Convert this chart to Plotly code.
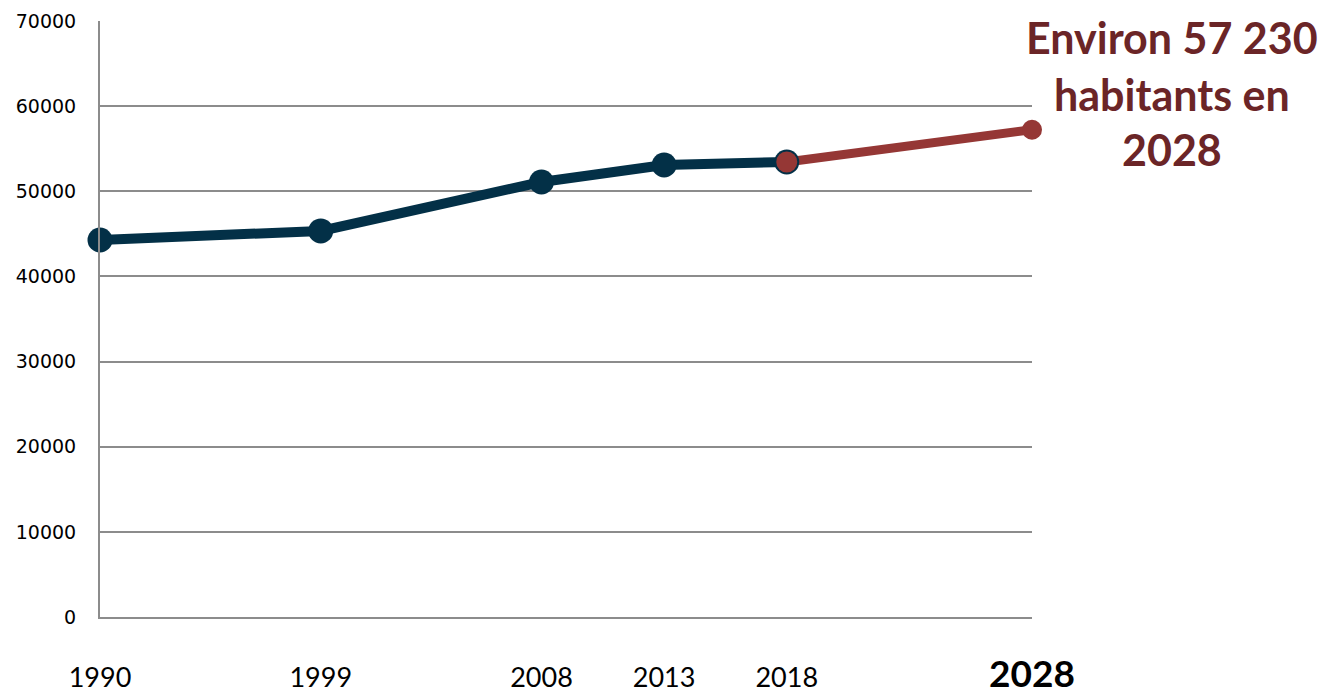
import plotly.graph_objects as go

# Data
years_hist = [1990, 1999, 2008, 2013, 2018]
pop_hist = [44280, 45340, 51090, 53090, 53440]
years_proj = [2018, 2028]
pop_proj = [53440, 57230]
tick_years = [1990, 1999, 2008, 2013, 2018, 2028]
tick_labels = ["1990", "1999", "2008", "2013", "2018",
               "<b><span style='font-size:37px'>2028</span></b>"]
y_ticks = [0, 10000, 20000, 30000, 40000, 50000, 60000, 70000]
note_lines = ["Environ 57 230", "habitants en", "2028"]

NAVY = "#033047"
RED = "#953735"
TXT_RED = "#6B2527"

fig = go.Figure()
fig.add_trace(go.Scatter(
    x=years_proj, y=pop_proj, mode="lines+markers",
    line=dict(color=RED, width=9),
    marker=dict(color=RED, size=20),
    cliponaxis=False, hoverinfo="skip"))
fig.add_trace(go.Scatter(
    x=years_hist, y=pop_hist, mode="lines+markers",
    line=dict(color=NAVY, width=10),
    marker=dict(color=NAVY, size=25),
    cliponaxis=False, hoverinfo="skip"))
# redraw the 2018 point in red on top
fig.add_trace(go.Scatter(
    x=years_proj[:1], y=pop_proj[:1], mode="markers",
    marker=dict(color=RED, size=21, line=dict(width=0)),
    cliponaxis=False, hoverinfo="skip"))

line_y = [0.973, 0.876, 0.784]
for txt, yy in zip(note_lines, line_y):
    fig.add_annotation(
        text=txt, xref="paper", yref="paper", x=1.150, y=yy,
        xanchor="center", yanchor="middle", showarrow=False,
        font=dict(family="Lato", size=43, color=TXT_RED, weight="bold"))

fig.update_layout(
    width=1327, height=698,
    margin=dict(l=100, r=295, t=21, b=81),
    paper_bgcolor="white", plot_bgcolor="white",
    showlegend=False,
    xaxis=dict(range=[1990, 2028], tickmode="array", tickvals=tick_years,
               ticktext=tick_labels, showgrid=False, zeroline=False,
               showline=True, linecolor="#8c8c8c", linewidth=2,
               ticks="", ticklabelstandoff=36, automargin=False,
               tickfont=dict(family="Lato", size=27, color="black")),
    yaxis=dict(range=[0, 70000], tickmode="array", tickvals=y_ticks,
               ticktext=[str(v) for v in y_ticks],
               showgrid=True, gridcolor="#8c8c8c", gridwidth=1.5,
               zeroline=False, showline=True, linecolor="#8c8c8c", linewidth=2,
               ticks="", ticklabelstandoff=18, automargin=False,
               tickfont=dict(family="DejaVu Sans", size=19, color="black")),
)

fig.write_html("out.html", config={"displayModeBar": False},
               post_script="document.body.style.margin='0';document.body.style.overflow='hidden';")
